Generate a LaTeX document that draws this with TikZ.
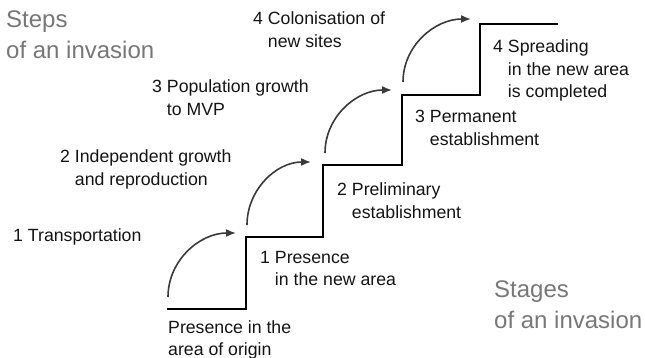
\documentclass[tikz,border=0pt]{standalone}
\usepackage{fontspec}
\setmainfont{Liberation Sans}
\usetikzlibrary{arrows.meta}

\definecolor{titlegray}{HTML}{777777}
\definecolor{arrowgray}{HTML}{3A3A3A}
\definecolor{textblack}{HTML}{141414}

% number with hanging lines
\newcommand{\numlabel}[2]{\begin{tabular}[t]{@{}l@{ }l@{}}#1 & \begin{tabular}[t]{@{}l@{}}#2\end{tabular}\end{tabular}}
\newcommand{\plainlabel}[1]{\begin{tabular}[t]{@{}l@{}}#1\end{tabular}}

\tikzset{
  steplabel/.style={anchor=base west, inner sep=0pt, text=textblack,
    font=\fontsize{17.7}{22.5}\selectfont},
  titlelabel/.style={anchor=base west, inner sep=0pt, text=titlegray,
    font=\fontsize{24}{31}\selectfont},
  stair/.style={line width=2.4pt, black, line join=miter},
  hop/.style={line width=1.6pt, arrowgray, -{Latex[length=10pt,width=8pt]}}
}

\begin{document}
\begin{tikzpicture}[x=1pt, y=-1pt]

    \useasboundingbox (0,0) rectangle (645,358);

    % Draw Stairs
    \draw[stair] (167,309) -- (246,309) -- (246,237) -- (323,237) -- (323,165)
                 -- (402,165) -- (402,95) -- (480,95) -- (480,24) -- (558,24);

    % Draw Hops between Stages
    \foreach \i/\sx/\sy/\ex/\ey in {1/168/297/236/233, 2/247/225/311/162,
                                    3/325/153/392/90, 4/403/82/471/19}{
      \coordinate (hop\i s) at (\sx,\sy);
      \coordinate (hop\i e) at (\ex,\ey);
      \draw[hop] (hop\i s) to[out=90, in=180] (hop\i e);
    }

    % Steps (above the stairs)
    \node[titlelabel] (steps) at (6,28) {\plainlabel{Steps\\of an invasion}};
    \node[steplabel] (transport) at (13,241) {\numlabel{1}{Transportation}};
    \node[steplabel] (growth) at (60,163) {\numlabel{2}{Independent growth\\and reproduction}};
    \node[steplabel] (mvp) at (152,93) {\numlabel{3}{Population growth\\to MVP}};
    \node[steplabel] (colonise) at (253,25) {\numlabel{4}{Colonisation of\\new sites}};

    % Stages (below the stairs)
    \node[steplabel] (origin) at (168,333) {\plainlabel{Presence in the\\area of origin}};
    \node[steplabel] (presence) at (260,263) {\numlabel{1}{Presence\\in the new area}};
    \node[steplabel] (prelim) at (337,196) {\numlabel{2}{Preliminary\\establishment}};
    \node[steplabel] (permanent) at (415,123) {\numlabel{3}{Permanent\\establishment}};
    \node[steplabel] (spread) at (493,53) {\numlabel{4}{Spreading\\in the new area\\is completed}};
    \node[titlelabel] (stages) at (494,297) {\plainlabel{Stages\\of an invasion}};

\end{tikzpicture}
\end{document}
